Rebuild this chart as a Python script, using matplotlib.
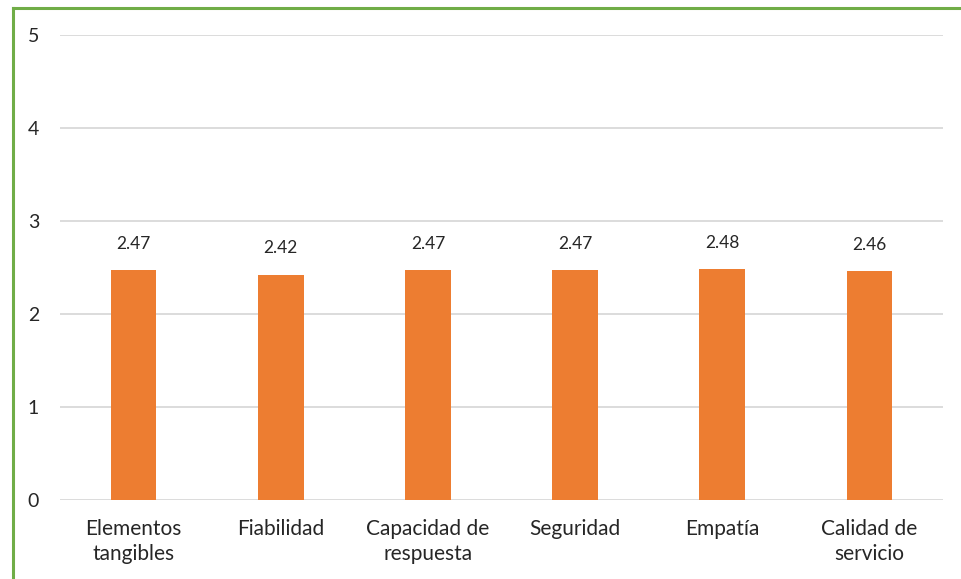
import matplotlib.pyplot as plt
from matplotlib.lines import Line2D

categories = ["Elementos\ntangibles", "Fiabilidad", "Capacidad de\nrespuesta",
              "Seguridad", "Empatía", "Calidad de\nservicio"]
values = [2.47, 2.42, 2.47, 2.47, 2.48, 2.46]
yticks = [0, 1, 2, 3, 4, 5]

plt.rcParams['font.family'] = ['Lato', 'DejaVu Sans']

W, H = 961, 579
fig = plt.figure(figsize=(W / 100, H / 100), dpi=100)
ax = fig.add_axes([60 / W, 1 - 500 / H, 883 / W, 465 / H])

x = range(len(categories))
bars = ax.bar(x, values, width=0.31, color="#ED7D31", zorder=3)
for b, v in zip(bars, values):
    ax.text(b.get_x() + b.get_width() / 2, v + 0.2, f"{v:.2f}",
            ha="center", va="bottom", fontsize=12.5, color="#262626")

ax.set_xlim(-0.5, len(categories) - 0.5)
ax.set_ylim(0, 5)
ax.set_yticks(yticks)
ax.set_yticklabels([str(t) for t in yticks], fontsize=14, color="#262626")
ax.set_xticks(list(x))
ax.set_xticklabels(categories, fontsize=15, color="#262626", linespacing=1.3)
ax.tick_params(length=0)
ax.tick_params(axis="y", pad=15)
ax.tick_params(axis="x", pad=14)
ax.grid(axis="y", color="#D9D9D9", linewidth=1.3, zorder=0)
for s in ax.spines.values():
    s.set_visible(False)

# green frame on the left and top edges
fig.add_artist(Line2D([12.5 / W, 12.5 / W], [0, 1 - 7.5 / H], color="#70AD47", linewidth=2.2))
fig.add_artist(Line2D([12.5 / W, 1], [1 - 7.5 / H, 1 - 7.5 / H], color="#70AD47", linewidth=2.2))

fig.savefig("out.png", dpi=100)
